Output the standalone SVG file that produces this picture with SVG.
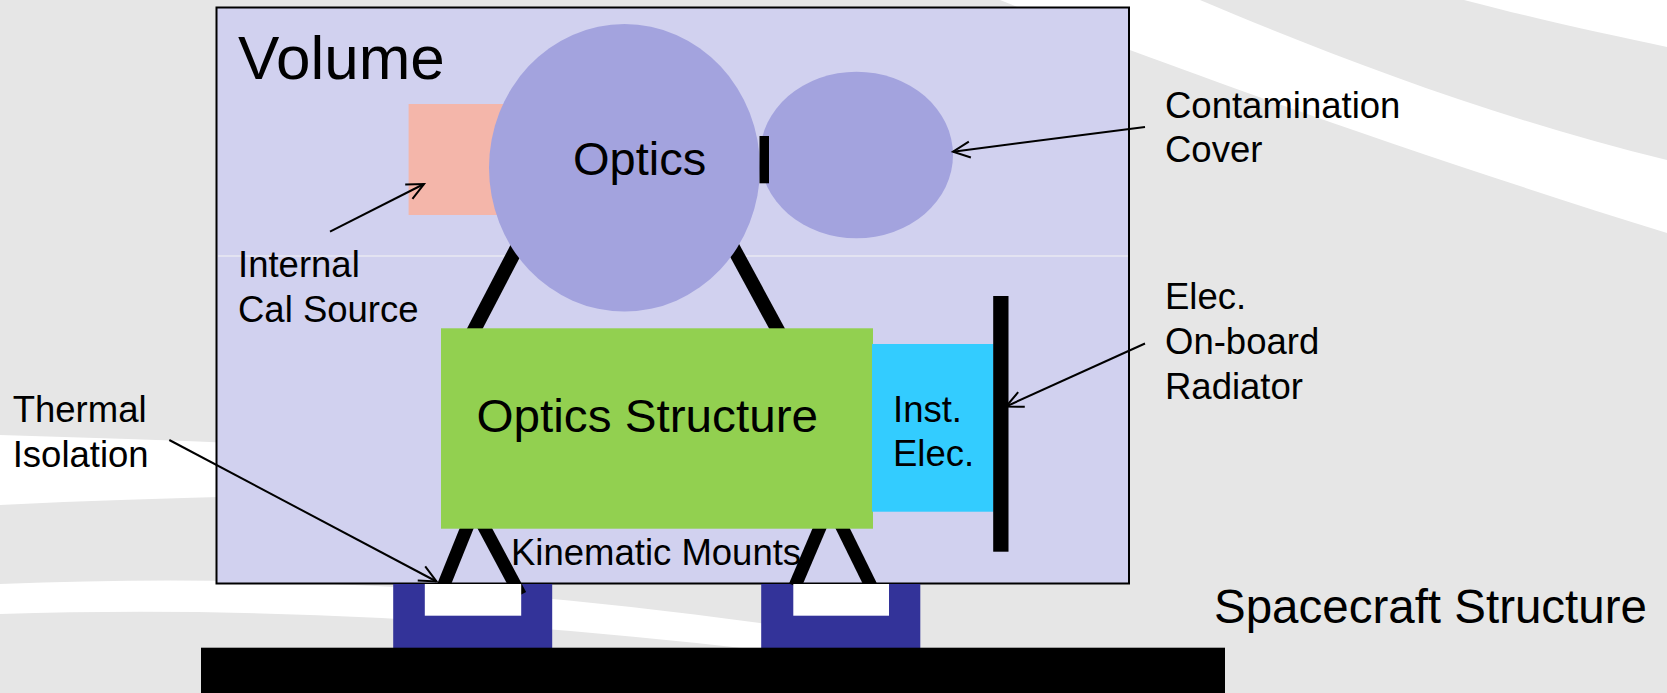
<svg xmlns="http://www.w3.org/2000/svg" width="1667" height="693" viewBox="0 0 1667 693">
  <defs>
    <style>
      .lbl { font-family: "Liberation Sans", Arial, sans-serif; fill: #000; }
      .small { font-size: 36.5px; }
      .conn { fill: none; stroke: #000; stroke-width: 2; marker-end: url(#openArrow); }
      .strut { stroke: #000; stroke-width: 14; stroke-linecap: butt; }
      .leg { stroke: #000; stroke-width: 13; stroke-linecap: butt; }
      .band { fill: #ffffff; }
    </style>
    <marker id="openArrow" viewBox="-20 -10 24 20" refX="0" refY="0" markerWidth="24" markerHeight="20" markerUnits="userSpaceOnUse" orient="auto">
      <path d="M-17,-8 L0,0 L-17,8" fill="none" stroke="#000" stroke-width="2"/>
    </marker>
  </defs>

  <!-- slide background with sweeping bands -->
  <g id="background">
    <rect x="0" y="0" width="1667" height="693" fill="#e6e6e6"/>
    <path class="band" d="M1000,0 L1200,0 C1330,55 1500,120 1667,160 L1667,233 C1400,150 1150,60 1000,0 Z"/>
    <path class="band" d="M1464,0 L1667,0 L1667,47 C1610,35 1540,20 1464,0 Z"/>
    <path class="band" d="M0,435 C100,438 200,441 300,446 L300,495 C200,497 100,500 0,505 Z"/>
    <path class="band" d="M0,584 C250,574 480,585 760,623 L900,660 L900,700 L760,650 C500,620 250,606 0,614 Z"/>
  </g>

  <!-- instrument volume envelope -->
  <g id="volume">
    <rect x="216.5" y="7.5" width="912.5" height="576" fill="#d1d1ef" stroke="#000" stroke-width="2"/>
    <line x1="218" y1="256" x2="1128" y2="256" stroke="#e8e8f2" stroke-width="1.5"/>
    <text class="lbl" x="238" y="79" font-size="62">Volume</text>
  </g>

  <g id="cal-source">
    <rect x="408.6" y="104" width="95" height="111" fill="#f4b6aa"/>
  </g>

  <!-- struts between optics and optics structure -->
  <g id="optics-struts">
    <line class="strut" x1="521" y1="240" x2="472" y2="334"/>
    <line class="strut" x1="729" y1="240" x2="780" y2="334"/>
  </g>

  <g id="optics">
    <ellipse cx="624.5" cy="167.8" rx="135.5" ry="143.8" fill="#a3a3de"/>
    <text class="lbl" x="573" y="175" font-size="47">Optics</text>
  </g>

  <g id="cover">
    <ellipse cx="856.5" cy="155" rx="96.5" ry="83.3" fill="#a3a3de"/>
    <rect x="759.5" y="136" width="9.5" height="47.3" fill="#000"/>
  </g>

  <!-- mounting pads on the spacecraft -->
  <g id="mount-left">
    <rect x="393.2" y="584" width="159" height="64" fill="#333399"/>
    <line class="leg" x1="468" y1="525" x2="443" y2="587"/>
    <line class="leg" x1="483" y1="525" x2="520.4" y2="595"/>
    <rect x="424.8" y="584" width="96.4" height="31.7" fill="#ffffff"/>
  </g>
  <g id="mount-right">
    <rect x="761.2" y="584" width="159.1" height="64" fill="#333399"/>
    <line class="leg" x1="821" y1="525" x2="795" y2="586"/>
    <line class="leg" x1="841" y1="525" x2="871" y2="586"/>
    <rect x="793.3" y="584" width="95.7" height="31.7" fill="#ffffff"/>
  </g>

  <g id="optics-structure">
    <rect x="441" y="328.3" width="432" height="200.4" fill="#92d050"/>
    <text class="lbl" x="476.5" y="431.7" font-size="47" textLength="341.5" lengthAdjust="spacingAndGlyphs">Optics Structure</text>
  </g>

  <g id="inst-elec">
    <rect x="872" y="344" width="121.5" height="167.7" fill="#33ccff"/>
    <text class="lbl small" x="893" y="421.7">Inst.</text>
    <text class="lbl small" x="893" y="465.7">Elec.</text>
  </g>

  <g id="radiator">
    <rect x="993.2" y="296" width="15.3" height="255.7" fill="#000"/>
  </g>

  <g id="spacecraft">
    <rect x="201" y="647.7" width="1024" height="46" fill="#000"/>
    <text class="lbl" x="1214" y="623.3" font-size="47.5">Spacecraft Structure</text>
  </g>

  <!-- callout labels -->
  <g id="labels">
    <text class="lbl small" x="238" y="277.3">Internal</text>
    <text class="lbl small" x="238" y="321.7">Cal Source</text>
    <text class="lbl small" x="1165" y="117.5">Contamination</text>
    <text class="lbl small" x="1165" y="162">Cover</text>
    <text class="lbl small" x="1165" y="309.3">Elec.</text>
    <text class="lbl small" x="1165" y="354">On-board</text>
    <text class="lbl small" x="1165" y="398.5">Radiator</text>
    <text class="lbl small" x="12.7" y="421.7">Thermal</text>
    <text class="lbl small" x="12.7" y="466.8">Isolation</text>
    <text class="lbl small" x="511" y="565">Kinematic Mounts</text>
  </g>

  <g id="connectors">
    <line class="conn" x1="330" y1="231.7" x2="424" y2="184"/>
    <line class="conn" x1="1145" y1="127" x2="953" y2="151.7"/>
    <line class="conn" x1="1145" y1="343.5" x2="1006" y2="406.5"/>
    <line class="conn" x1="169.3" y1="440" x2="436.5" y2="581.5"/>
  </g>
</svg>
